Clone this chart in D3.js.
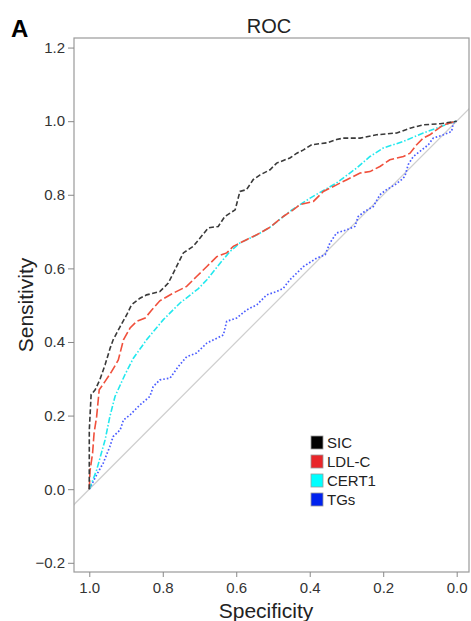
<!DOCTYPE html>
<html>
<head>
<meta charset="utf-8">
<script src="https://cdn.jsdelivr.net/npm/d3@7"></script>
<style>
  html, body { margin: 0; padding: 0; background: #fff; }
  svg { display: block; font-family: "Liberation Sans", Arial, Helvetica, sans-serif; }
</style>
</head>
<body>
<svg id="chart" width="471" height="621"></svg>
<script>
// ROC curves: [specificity, sensitivity]
const sicPoints = [[1.0,0],[1.0,0.16],[0.995,0.257],[0.984,0.27],[0.971,0.298],[0.957,0.338],[0.943,0.384],[0.935,0.406],[0.916,0.442],[0.898,0.474],[0.885,0.501],[0.862,0.519],[0.844,0.528],[0.808,0.537],[0.785,0.56],[0.758,0.614],[0.744,0.642],[0.717,0.66],[0.699,0.682],[0.676,0.71],[0.649,0.714],[0.631,0.741],[0.603,0.759],[0.59,0.809],[0.572,0.814],[0.554,0.841],[0.535,0.854],[0.508,0.868],[0.49,0.886],[0.454,0.9],[0.435,0.913],[0.417,0.922],[0.395,0.936],[0.354,0.941],[0.327,0.95],[0.309,0.954],[0.263,0.954],[0.218,0.963],[0.163,0.968],[0.127,0.981],[0.091,0.99],[0.045,0.993],[0.005,0.999],[0,1]];
const ldlPoints = [[1,0],[0.998,0.05],[0.991,0.098],[0.987,0.152],[0.98,0.197],[0.973,0.27],[0.957,0.293],[0.939,0.32],[0.921,0.351],[0.907,0.406],[0.889,0.438],[0.871,0.456],[0.848,0.465],[0.83,0.487],[0.808,0.512],[0.771,0.533],[0.735,0.551],[0.708,0.578],[0.68,0.605],[0.653,0.632],[0.626,0.642],[0.608,0.66],[0.572,0.678],[0.535,0.696],[0.508,0.712],[0.472,0.741],[0.445,0.759],[0.427,0.773],[0.39,0.782],[0.363,0.809],[0.327,0.827],[0.299,0.841],[0.263,0.859],[0.236,0.863],[0.209,0.877],[0.182,0.895],[0.145,0.904],[0.127,0.913],[0.109,0.936],[0.091,0.954],[0.073,0.963],[0.054,0.977],[0.036,0.99],[0.005,0.999],[0,1]];
const cert1Points = [[1,0],[0.98,0.052],[0.957,0.134],[0.944,0.197],[0.93,0.252],[0.903,0.311],[0.88,0.356],[0.844,0.406],[0.799,0.46],[0.753,0.506],[0.703,0.545],[0.68,0.569],[0.644,0.614],[0.617,0.646],[0.59,0.669],[0.544,0.691],[0.508,0.712],[0.454,0.755],[0.399,0.791],[0.327,0.832],[0.272,0.873],[0.236,0.904],[0.2,0.927],[0.145,0.945],[0.091,0.968],[0.005,0.999],[0,1]];
const tgPoints = [[1,0],[0.98,0.039],[0.962,0.071],[0.944,0.116],[0.935,0.143],[0.916,0.161],[0.907,0.188],[0.889,0.202],[0.862,0.229],[0.835,0.252],[0.826,0.279],[0.808,0.297],[0.78,0.302],[0.758,0.333],[0.735,0.36],[0.708,0.37],[0.68,0.397],[0.635,0.419],[0.626,0.456],[0.599,0.465],[0.572,0.487],[0.544,0.501],[0.517,0.528],[0.49,0.537],[0.472,0.546],[0.454,0.569],[0.417,0.605],[0.381,0.628],[0.358,0.637],[0.345,0.669],[0.327,0.696],[0.299,0.705],[0.277,0.714],[0.268,0.741],[0.25,0.755],[0.227,0.768],[0.209,0.8],[0.191,0.814],[0.168,0.827],[0.15,0.841],[0.141,0.85],[0.132,0.882],[0.118,0.904],[0.1,0.918],[0.077,0.936],[0.064,0.954],[0.036,0.963],[0.014,0.972],[0.009,0.995],[0,1]];

const seriesNames = ["SIC", "LDL-C", "CERT1", "TGs"];
const seriesData = [sicPoints, ldlPoints, cert1Points, tgPoints];

const xTicks = [1.0, 0.8, 0.6, 0.4, 0.2, 0.0];
const yTicks = [-0.2, 0.0, 0.2, 0.4, 0.6, 0.8, 1.0, 1.2];

// styling for each curve
const lineColors = ["#3a3a3a", "#f0503c", "#22e8ee", "#4a5cff"];
const lineDashes = ["5,2.5", "9,3", "6,2,1.5,2", "1.6,2"];
const legendColors = ["#000000", "#e8262a", "#00ffff", "#0022ee"];

const svg = d3.select("#chart");
const margin = { top: 38, right: 2, bottom: 49, left: 74 };
const W = 471 - margin.left - margin.right;
const H = 621 - margin.top - margin.bottom;

const x = d3.scaleLinear().domain([1.0416, -0.0335]).range([0, W]);
const y = d3.scaleLinear().domain([-0.225, 1.226]).range([H, 0]);

const g = svg.append("g").attr("transform", `translate(${margin.left},${margin.top})`);

g.append("clipPath").attr("id", "plotClip")
  .append("rect").attr("width", W).attr("height", H);

// reference diagonal
g.append("line")
  .attr("clip-path", "url(#plotClip)")
  .attr("x1", x(1.1)).attr("y1", y(-0.1))
  .attr("x2", x(-0.1)).attr("y2", y(1.1))
  .attr("stroke", "#cfcfcf").attr("stroke-width", 1.3);

// curves
const line = d3.line().x(d => x(d[0])).y(d => y(d[1]));
g.selectAll("path.roc")
  .data(seriesData.slice().reverse())
  .join("path")
  .attr("class", "roc")
  .attr("d", line)
  .attr("fill", "none")
  .attr("stroke", (d, i) => lineColors[3 - i])
  .attr("stroke-width", (d, i) => (3 - i) === 3 ? 1.7 : 1.6)
  .attr("stroke-dasharray", (d, i) => lineDashes[3 - i]);

// frame
g.append("rect")
  .attr("width", W).attr("height", H)
  .attr("fill", "none").attr("stroke", "#9a9a9a").attr("stroke-width", 1.2);

// axes
const yAxis = g.append("g")
  .call(d3.axisLeft(y).tickValues(yTicks).tickFormat(d3.format(".1f")).tickSize(6).tickPadding(3));
const xAxis = g.append("g").attr("transform", `translate(0,${H})`)
  .call(d3.axisBottom(x).tickValues(xTicks).tickFormat(d3.format(".1f")).tickSize(5).tickPadding(5));
[xAxis, yAxis].forEach(ax => {
  ax.select(".domain").remove();
  ax.selectAll(".tick line").attr("stroke", "#888").attr("stroke-width", 1);
  ax.selectAll(".tick text").attr("fill", "#333").style("font-size", "15px")
    .style("font-family", "'Liberation Sans', Arial, Helvetica, sans-serif");
});

// titles
svg.append("text").attr("x", 269).attr("y", 33).attr("text-anchor", "middle")
  .style("font-size", "20px").attr("fill", "#222").text("ROC");
svg.append("text").attr("x", 11).attr("y", 37)
  .style("font-size", "24px").style("font-weight", "bold").attr("fill", "#000").text("A");
svg.append("text").attr("x", 266).attr("y", 618).attr("text-anchor", "middle")
  .style("font-size", "21px").attr("fill", "#222").text("Specificity");
svg.append("text").attr("transform", "translate(33,305) rotate(-90)").attr("text-anchor", "middle")
  .style("font-size", "21px").attr("fill", "#222").text("Sensitivity");

// legend
const legend = svg.append("g").attr("transform", "translate(311,436)");
const items = legend.selectAll("g").data(seriesNames).join("g")
  .attr("transform", (d, i) => `translate(0,${i * 19})`);
items.append("rect").attr("width", 12).attr("height", 13)
  .attr("fill", (d, i) => legendColors[i]).attr("stroke", "#999").attr("stroke-width", 0.8);
items.append("text").attr("x", 16).attr("y", 12)
  .style("font-size", "15px").attr("fill", "#222").text(d => d);
</script>
</body>
</html>
